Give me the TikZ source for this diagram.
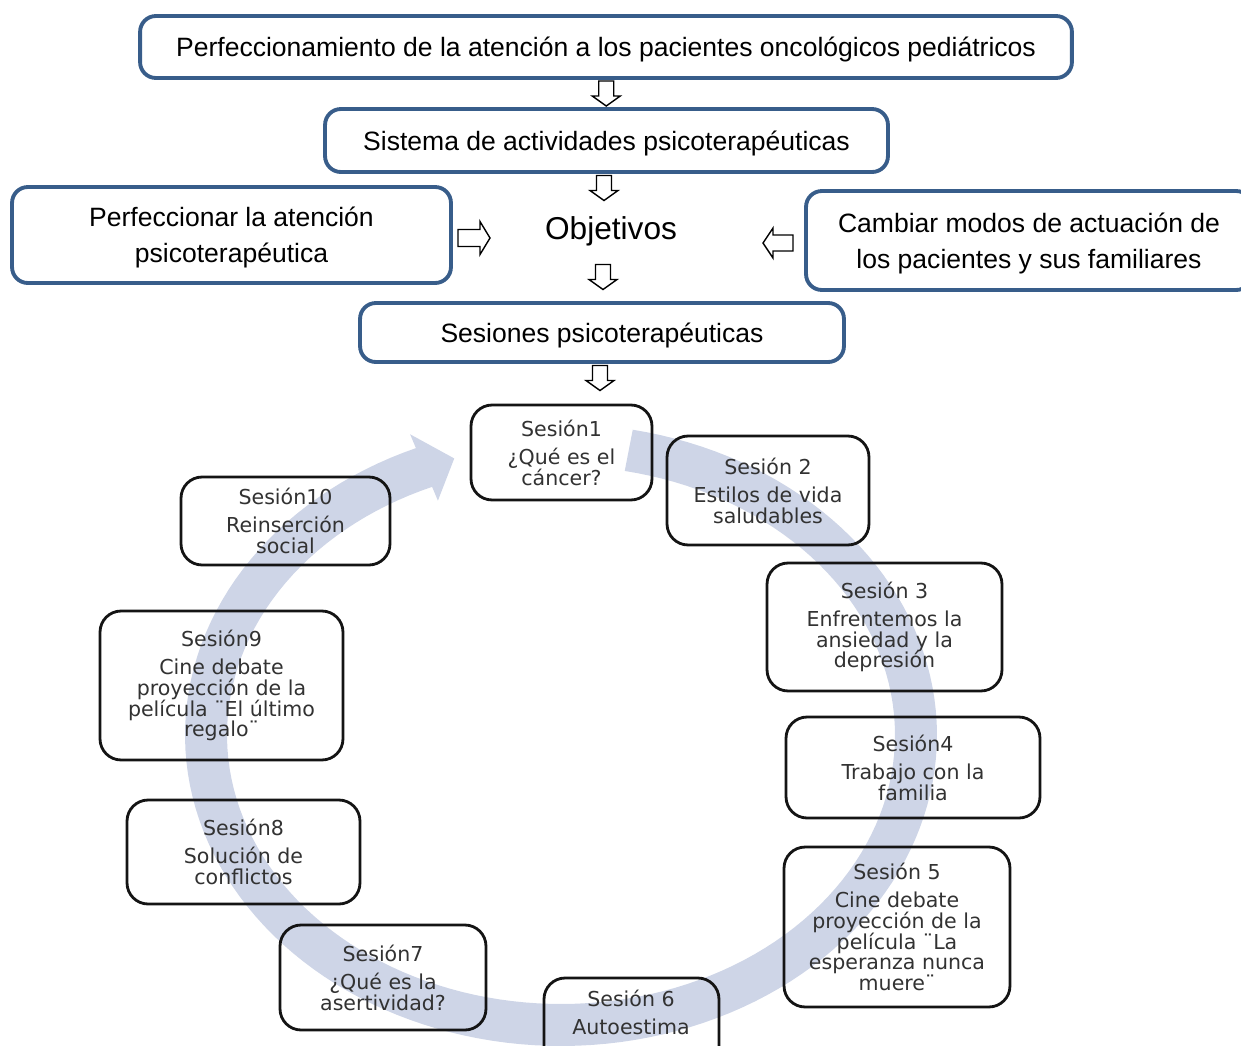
\documentclass[tikz,border=0pt]{standalone}
\usepackage{fontspec}
\setmainfont{Liberation Sans}
\newfontfamily\sessfont{DejaVu Sans}
\usetikzlibrary{calc}
\definecolor{boxblue}{RGB}{56,93,138}
\definecolor{bandcol}{RGB}{206,213,231}
\definecolor{sesstext}{RGB}{50,50,50}
\tikzset{
  bluebox/.style={draw=boxblue, line width=2.2pt, rounded corners=9pt, align=center,
    inner sep=0pt, text depth=0pt, font=\fontsize{15.1}{20.4}\selectfont},
  sessbox/.style={draw=black!92, line width=1.6pt, rounded corners=12pt, inner sep=0pt},
  sesstxt/.style={align=center, text=sesstext, inner sep=0pt,
    font=\sessfont\fontsize{11.7}{11.9}\selectfont},
  arrowline/.style={draw=black, line width=0.8pt, fill=white, line join=miter},
  pics/downblock/.style={code={
    \path[arrowline] (-7.5,-12.5) -- (7.5,-12.5) -- (7.5,2.5) -- (14,2.5) -- (0,12.5)
      -- (-14,2.5) -- (-7.5,2.5) -- cycle;}},
  pics/rightblock/.style={code={
    \path[arrowline] (-16,-8.5) -- (6,-8.5) -- (6,-16.5) -- (16,0) -- (6,16.5)
      -- (6,8.5) -- (-16,8.5) -- cycle;}},
  pics/leftblock/.style={code={
    \path[arrowline] (15,-8) -- (-5,-8) -- (-5,-15) -- (-15,0) -- (-5,15)
      -- (-5,8) -- (15,8) -- cycle;}},
}
\begin{document}
\begin{tikzpicture}[x=0.02cm,y=-0.02cm]
\useasboundingbox (0,0) rectangle (1241,1045);
\clip (0,0) rectangle (1241,1045);
% cycle band
\fill[bandcol] plot[domain=79:-247.3, samples=150] ({561+376*cos(\x)},{735-311*sin(\x)})
  -- ({561+391*cos(-247.3)},{735-326*sin(-247.3)})
  -- ({561+355*cos(-252.5)},{735-290*sin(-252.5)})
  -- ({561+319*cos(-247.3)},{735-254*sin(-247.3)})
  -- plot[domain=-247.3:79, samples=150] ({561+334*cos(\x)},{735-269*sin(\x)}) -- cycle;
% top part
\node[bluebox, minimum width=18.64cm, minimum height=1.24cm] (top) at (606,47)
  {Perfeccionamiento de la atención a los pacientes oncológicos pediátricos};
\node[bluebox, minimum width=11.26cm, minimum height=1.26cm] (sys) at (606.5,140.5)
  {Sistema de actividades psicoterapéuticas};
\node[bluebox, minimum width=8.78cm, minimum height=1.92cm, font=\fontsize{15.1}{20.6}\selectfont] (left) at (231.5,235)
  {Perfeccionar la atención\\psicoterapéutica};
\node[bluebox, minimum width=8.92cm, minimum height=1.98cm, font=\fontsize{15.1}{20.6}\selectfont] (right) at (1029,240.5)
  {Cambiar modos de actuación de\\los pacientes y sus familiares};
\node[inner sep=0pt, font=\fontsize{18}{20}\selectfont] (obj) at (611,231) {Objetivos};
\node[bluebox, minimum width=9.68cm, minimum height=1.18cm] (ses) at (602,332.5)
  {Sesiones psicoterapéuticas};
% block arrows between boxes
\coordinate (d1) at ($(top.south)!0.5!(sys.north)$);
\coordinate (d2) at (604,188);
\coordinate (d3) at (603,277);
\coordinate (d4) at (600,378);
\coordinate (ra) at (474,238);
\coordinate (la) at (778,243);
\pic at (d1) {downblock};
\pic at (d2) {downblock};
\pic at (d3) {downblock};
\pic at (d4) {downblock};
\pic at (ra) {rightblock};
\pic at (la) {leftblock};
% sessions
\node[sessbox, minimum width=3.62cm, minimum height=1.9cm] (s1) at (561.5,452.5) {};
\node[sesstxt] at (s1) {Sesión1\\[4pt]¿Qué es el\\cáncer?};
\node[sessbox, minimum width=4.04cm, minimum height=2.18cm] (s2) at (768,490.5) {};
\node[sesstxt] at (s2) {Sesión 2\\[4pt]Estilos de vida\\saludables};
\node[sessbox, minimum width=4.7cm, minimum height=2.56cm] (s3) at (884.5,627) {};
\node[sesstxt] at (s3) {Sesión 3\\[4pt]Enfrentemos la\\ansiedad y la\\depresión};
\node[sessbox, minimum width=5.08cm, minimum height=2.02cm] (s4) at (913,767.5) {};
\node[sesstxt] at (s4) {Sesión4\\[4pt]Trabajo con la\\familia};
\node[sessbox, minimum width=4.52cm, minimum height=3.2cm] (s5) at (897,927) {};
\node[sesstxt] at (s5) {Sesión 5\\[4pt]Cine debate\\proyección de la\\película ¨La\\esperanza nunca\\muere¨};
\node[sessbox, minimum width=3.5cm, minimum height=1.94cm] (s6) at (631.5,1026.5) {};
\node[sesstxt] (s6t) at (631,1012) {Sesión 6\\[4pt]Autoestima};
\node[sessbox, minimum width=4.12cm, minimum height=2.1cm] (s7) at (383,977.5) {};
\node[sesstxt] at (s7) {Sesión7\\[4pt]¿Qué es la\\asertividad?};
\node[sessbox, minimum width=4.66cm, minimum height=2.08cm] (s8) at (243.5,852) {};
\node[sesstxt] at (s8) {Sesión8\\[4pt]Solución de\\conflictos};
\node[sessbox, minimum width=4.86cm, minimum height=2.98cm] (s9) at (221.5,685.5) {};
\node[sesstxt] at (s9) {Sesión9\\[4pt]Cine debate\\proyección de la\\película ¨El último\\regalo¨};
\node[sessbox, minimum width=4.18cm, minimum height=1.76cm] (s10) at (285.5,521) {};
\node[sesstxt] at (s10) {Sesión10\\[4pt]Reinserción\\social};
\end{tikzpicture}
\end{document}
